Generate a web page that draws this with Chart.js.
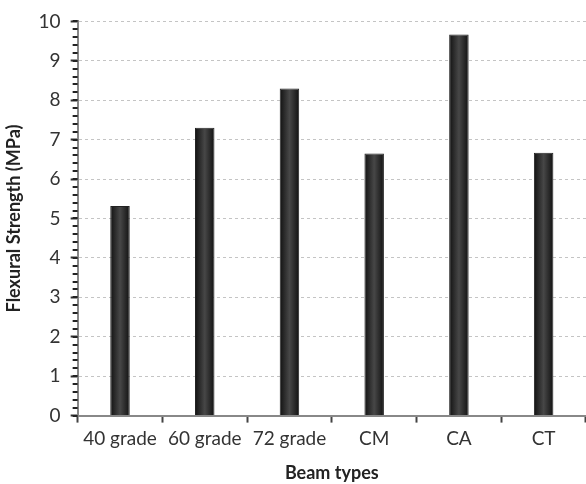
<!DOCTYPE html>
<html>
<head>
<meta charset="utf-8">
<script src="https://cdn.jsdelivr.net/npm/chart.js@4"></script>
<style>
  html, body { margin: 0; padding: 0; background: #fff; }
  #wrap { width: 586px; height: 484px; }
</style>
</head>
<body>
<div id="wrap"><canvas id="myChart"></canvas></div>
<script>
const labels = ["40 grade", "60 grade", "72 grade", "CM", "CA", "CT"];
const strength = [5.32, 7.3, 8.3, 6.65, 9.67, 6.67];
const yTitle = "Flexural Strength (MPa)";
const xTitle = "Beam types";

const barFrac = 0.23;
const minorStep = 0.2;

// shaded bar, dark at the edges, lighter in the middle
const barFill = (context) => {
    const chart = context.chart;
    if (!chart.chartArea) return "#333";
    const xs = chart.scales.x;
    const cx = xs.getPixelForValue(context.dataIndex);
    const w = xs.width / labels.length * barFrac;
    const g = chart.ctx.createLinearGradient(cx - w / 2, 0, cx + w / 2, 0);
    g.addColorStop(0, "#111");
    g.addColorStop(0.5, "#474747");
    g.addColorStop(1, "#111");
    return g;
};

// little minor tick marks on the y axis
const minorTicks = {
    id: "minorTicks",
    afterDraw(chart) {
        const ys = chart.scales.y;
        const c = chart.ctx;
        const x0 = chart.chartArea.left;
        c.save();
        c.strokeStyle = "#222";
        c.lineWidth = 2;
        for (let v = ys.min; v <= ys.max + 1e-6; v += minorStep) {
            const y = Math.round(ys.getPixelForValue(v));
            c.beginPath();
            c.moveTo(x0 - 5, y);
            c.lineTo(x0, y);
            c.stroke();
        }
        c.restore();
    },
};

const font = "Lato, 'Open Sans', sans-serif";

const config = {
    type: "bar",
    data: {
        labels: labels,
        datasets: [{
            data: strength,
            backgroundColor: barFill,
            borderColor: "#222",
            borderWidth: 1,
            categoryPercentage: 1,
            barPercentage: barFrac,
        }],
    },
    options: {
        responsive: true,
        maintainAspectRatio: false,
        animation: false,
        layout: { padding: { top: 11, right: 0, left: 3, bottom: 0 } },
        plugins: {
            legend: { display: false },
            tooltip: { enabled: false },
        },
        scales: {
            x: {
                grid: {
                    offset: true,
                    drawOnChartArea: false,
                    tickLength: 7,
                    tickColor: "#444",
                    tickWidth: 2,
                },
                border: { color: "#888", width: 2 },
                ticks: {
                    color: "#333",
                    font: { family: font, size: 19 },
                    padding: 5,
                    maxRotation: 0,
                    autoSkip: false,
                },
                title: {
                    display: true,
                    text: xTitle,
                    color: "#222",
                    font: { family: font, size: 18, weight: "bold" },
                    padding: { top: 7, bottom: 0 },
                },
            },
            y: {
                min: 0,
                max: 10,
                ticks: {
                    stepSize: 1,
                    color: "#333",
                    font: { family: font, size: 19 },
                    padding: 10,
                },
                grid: {
                    color: "#c4c4c4",
                    tickColor: "#333",
                    tickLength: 7,
                    tickWidth: 2,
                },
                border: { color: "#888", width: 2, dash: [3, 3] },
                title: {
                    display: true,
                    text: yTitle,
                    color: "#222",
                    font: { family: font, size: 18, weight: "bold" },
                    padding: { top: 0, bottom: 4 },
                },
            },
        },
    },
    plugins: [minorTicks],
};

const ctx = document.getElementById("myChart").getContext("2d");
const chart = new Chart(ctx, config);
</script>
</body>
</html>
